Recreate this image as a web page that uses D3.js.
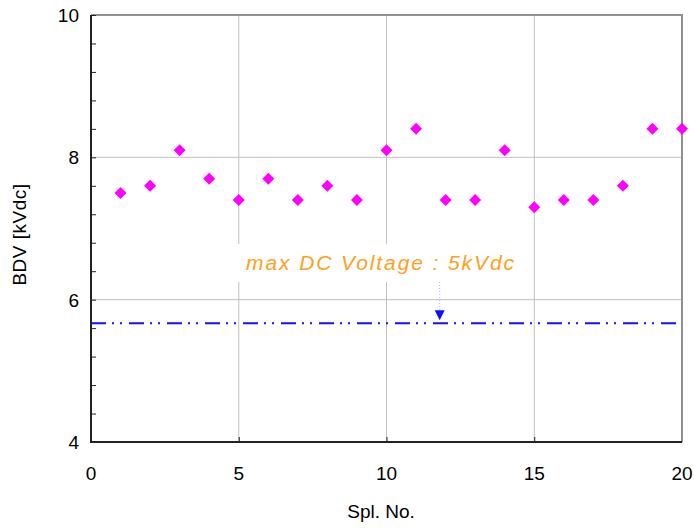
<!DOCTYPE html>
<html>
<head>
<meta charset="utf-8">
<script src="https://cdn.jsdelivr.net/npm/d3@7"></script>
<style>
body{margin:0;background:#fff;}
svg{display:block;font-family:"Liberation Sans",Arial,sans-serif;}
</style>
</head>
<body>
<svg id="c" width="694" height="528"></svg>
<script>
const samples = [1,2,3,4,5,6,7,8,9,10,11,12,13,14,15,16,17,18,19,20];
const bdv = [7.5,7.6,8.1,7.7,7.4,7.7,7.4,7.6,7.4,8.1,8.4,7.4,7.4,8.1,7.3,7.4,7.4,7.6,8.4,8.4];
const xTicks = [0,5,10,15,20];
const yTicks = [4,6,8,10];
const limitValue = 5.67;
const annoText = "max DC Voltage : 5kVdc";
const annoX = 11.8;

const svg = d3.select("#c");
const L=91, R=682, T=15, B=442;
const x = d3.scaleLinear().domain([0,20]).range([L,R]);
const y = d3.scaleLinear().domain([4,10]).range([B,T]);

// grid
svg.append("g").selectAll("line").data([5,10,15]).join("line")
  .attr("x1",d=>x(d)).attr("x2",d=>x(d)).attr("y1",T).attr("y2",B)
  .attr("stroke","#c0c0c0").attr("stroke-width",1);
svg.append("g").selectAll("line").data([6,8]).join("line")
  .attr("x1",L).attr("x2",R).attr("y1",d=>y(d)).attr("y2",d=>y(d))
  .attr("stroke","#c0c0c0").attr("stroke-width",1);

// top/right border
svg.append("path").attr("d",`M${L},${T}H${R}V${B}`).attr("fill","none")
  .attr("stroke","#909090").attr("stroke-width",2);

// limit line
svg.append("line").attr("x1",L).attr("x2",R).attr("y1",y(limitValue)).attr("y2",y(limitValue))
  .attr("stroke","#1010ff").attr("stroke-width",2)
  .attr("stroke-dasharray","15,6,2,6,2,7");

// annotation box + text
const ty = 262;
svg.append("rect").attr("x",236).attr("y",244).attr("width",290).attr("height",38).attr("fill","#fff");
svg.append("text").attr("x",381).attr("y",ty+8).attr("text-anchor","middle")
  .attr("font-size",21).attr("font-style","italic").attr("letter-spacing",1.9).attr("fill","#ffa020")
  .text(annoText);
// arrow
svg.append("line").attr("x1",x(annoX)).attr("x2",x(annoX)).attr("y1",282).attr("y2",310)
  .attr("stroke","#b0b0ff").attr("stroke-width",1).attr("stroke-dasharray","1,2");
const ax = x(annoX), ay = y(limitValue)-3;
svg.append("path").attr("d",`M${ax-5},${ay-10}L${ax+5},${ay-10}L${ax},${ay}Z`).attr("fill","#1010ff");

// axes left & bottom
const yAxis = d3.axisLeft(y).tickValues(d3.range(4,10.01,0.4)).tickSize(-5).tickFormat("");
const gy = svg.append("g").attr("transform",`translate(${L},0)`).call(yAxis);
gy.select(".domain").remove();
gy.selectAll("line").attr("stroke","#222");
const xAxis = d3.axisBottom(x).tickValues([5,10,15]).tickSize(-5).tickFormat("");
const gx = svg.append("g").attr("transform",`translate(0,${B})`).call(xAxis);
gx.select(".domain").remove();
gx.selectAll("line").attr("stroke","#222");
svg.append("path").attr("d",`M${L},${T}V${B}H${R}`).attr("fill","none")
  .attr("stroke","#222").attr("stroke-width",2);

// tick labels
svg.append("g").selectAll("text").data(yTicks).join("text")
  .attr("x",79).attr("y",d=>y(d)+7).attr("text-anchor","end")
  .attr("font-size",19).attr("fill","#000").text(d=>d);
svg.append("g").selectAll("text").data(xTicks).join("text")
  .attr("x",d=>x(d)).attr("y",480).attr("text-anchor","middle")
  .attr("font-size",19).attr("fill","#000").text(d=>d);

// axis titles
svg.append("text").attr("x",381).attr("y",518).attr("text-anchor","middle")
  .attr("font-size",19).text("Spl. No.");
svg.append("text").attr("transform",`translate(26,${(T+B)/2+6}) rotate(-90)`)
  .attr("text-anchor","middle").attr("font-size",19).attr("letter-spacing",0.5).text("BDV [kVdc]");

// markers
svg.append("g").selectAll("path").data(samples).join("path")
  .attr("transform",(d,i)=>`translate(${x(d)},${y(bdv[i])})`)
  .attr("d","M0,-6L6,0L0,6L-6,0Z").attr("fill","#ff00ff");
</script>
</body>
</html>
